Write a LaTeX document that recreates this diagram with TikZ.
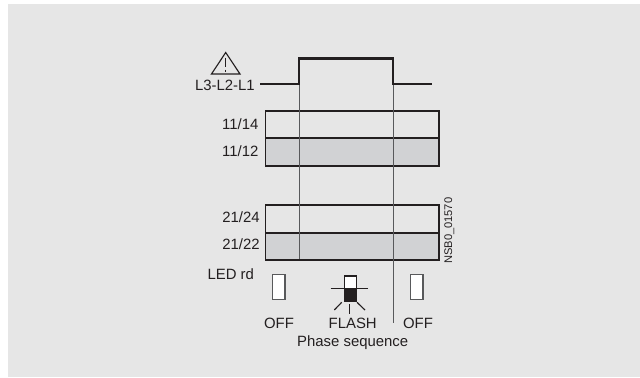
\documentclass[tikz,border=0pt]{standalone}
\usepackage{fontspec}
\setmainfont{Liberation Sans}
\usetikzlibrary{positioning}
\definecolor{panelgrey}{HTML}{E6E6E6}
\definecolor{bandgrey}{HTML}{D1D2D4}
\definecolor{inkdark}{HTML}{231F20}
\definecolor{inkmid}{HTML}{58595B}
\begin{document}
\begin{tikzpicture}[%
  x=0.025cm, y=-0.025cm,
  % common options for the relay bands:
  band/.style = {draw=inkdark, line width=1.4pt, anchor=north west, inner sep=0,
              minimum width=4.33cm, minimum height=0.685cm},
  % common options for the LED windows:
  led/.style = {draw=inkmid, fill=white, line width=0.9pt, anchor=north west, inner sep=0,
              minimum width=0.31cm, minimum height=0.62cm},
  % text labels:
  lab/.style = {text=inkdark, inner sep=0, font=\fontsize{10.6}{12}\selectfont},
  cycle/.style = {draw=inkdark, line width=1.5pt},
  guide/.style = {draw=inkmid, line width=0.65pt},
  ray/.style = {draw=inkdark, line width=0.8pt}]

% page and panel
\useasboundingbox (0,0) rectangle (640,377);
\fill[white] (0,0) rectangle (640,377);
\node[fill=panelgrey, inner sep=0, anchor=north west, minimum width=15.8cm, minimum height=9.325cm] (panel) at (8,4) {};

% relay bands, first changeover contact
\node[band] (b1114) at (264.5,110) {};
\node[band,fill=bandgrey] (b1112) at (264.5,137.4) {};

% relay bands, second changeover contact
\node[band] (b2124) at (264.5,204.4) {};
\node[band,fill=bandgrey] (b2122) at (264.5,231.8) {};

% corners of the phase signal
\coordinate (lowa) at (260,84);
\coordinate (risea) at (299,84);
\coordinate (riseb) at (299,58.5);
\coordinate (fallb) at (393,58.5);
\coordinate (falla) at (393,84);
\coordinate (lowb) at (432,84);

% free ends of the guide lines
\coordinate (guidea) at (299,259);
\coordinate (guideb) at (393,323);

% guide lines through the bands
\draw[guide] (risea) -- (guidea);
\draw[guide] (falla) -- (guideb);

% phase signal
\draw[cycle,line join=miter] (lowa) -- (risea) -- (riseb) -- (fallb) -- (falla) -- (lowb);

% warning sign
\coordinate (tip) at (225.7,52.5);
\coordinate (basel) at (211.5,74);
\coordinate (baser) at (240,74);
\draw[draw=inkdark,line width=0.8pt] (tip) -- (basel) -- (baser) -- cycle;
\coordinate (marka) at (225.7,57.5);
\coordinate (markb) at (225.7,67);
\coordinate (dota) at (225.7,69.5);
\coordinate (dotb) at (225.7,71.8);
\draw[draw=inkdark,line width=1pt] (marka) -- (markb);
\draw[draw=inkdark,line width=1pt] (dota) -- (dotb);

% labels left of the signal and bands
\node[lab,anchor=east] (phases) at (255,85) {L3-L2-L1};
\node[lab,anchor=east] (t1114) at (258.7,124) {11/14};
\node[lab,anchor=east] (t1112) at (258.7,150.7) {11/12};
\node[lab,anchor=east] (t2124) at (260,217) {21/24};
\node[lab,anchor=east] (t2122) at (260,244.5) {21/22};
\node[lab,anchor=west] (ledrd) at (207.3,274) {LED rd};

% drawing number
\node[text=inkdark,inner sep=0,rotate=90,font=\fontsize{7.9}{9}\selectfont] (drawno) at (449.3,230.7) {NSB0\_01570};

% LED windows
\node[led] (ledoff1) at (272,274) {};
\node[led] (ledoff2) at (410,274) {};
\node[led,draw=inkdark,line width=1.1pt,minimum height=0.64cm] (ledflash) at (343.5,275) {};
\fill[inkdark] (343.5,288) rectangle (355.7,300.6);

% rays round the flashing LED
\coordinate (rl) at (330.7,288.7);
\coordinate (rr) at (368,288.7);
\coordinate (rb) at (349.4,314.3);
\coordinate (rbs) at (349.4,304);
\coordinate (rdl) at (334.3,310);
\coordinate (rdls) at (341.7,302.3);
\coordinate (rdr) at (365,310);
\coordinate (rdrs) at (357,302.3);
\draw[ray] (rl) -- (ledflash.west |- rl);
\draw[ray] (rr) -- (ledflash.east |- rr);
\draw[ray] (rbs) -- (rb);
\draw[ray] (rdls) -- (rdl);
\draw[ray] (rdrs) -- (rdr);

% state names
\node[lab] (off1) at (279,323.5) {OFF};
\node[lab] (flash) at (352.7,323.5) {FLASH};
\node[lab] (off2) at (418,323.5) {OFF};
\node[lab] (phseq) at (352.7,342.7) {Phase sequence};
\end{tikzpicture}
\end{document}
